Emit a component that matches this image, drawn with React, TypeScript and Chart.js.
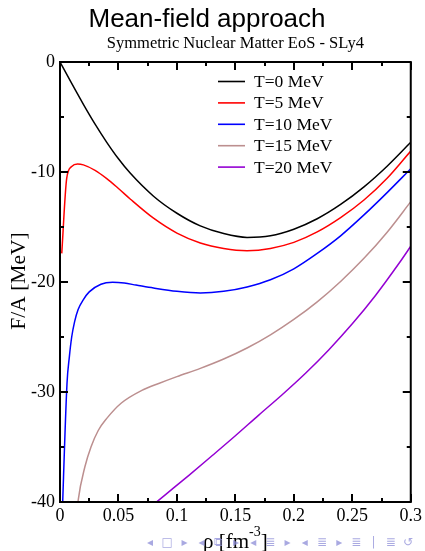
import { useEffect, useRef } from "react";
import { Chart, registerables } from "chart.js";

Chart.register(...registerables);

// ---- data ----
const rhoT0 = [0, 0.01, 0.02, 0.03, 0.04, 0.05, 0.06, 0.08, 0.1, 0.12, 0.14, 0.16, 0.18, 0.2, 0.22, 0.24, 0.26, 0.28, 0.3];
const faT0 = [0, -1.95, -3.85, -5.65, -7.3, -8.8, -10.1, -12.2, -13.75, -14.9, -15.6, -15.95, -15.8, -15.2, -14.25, -12.95, -11.35, -9.45, -7.3];

const rhoT5 = [0.0015, 0.0057, 0.01, 0.015, 0.02, 0.03, 0.04, 0.05, 0.06, 0.08, 0.1, 0.12, 0.14, 0.16, 0.18, 0.2, 0.22, 0.24, 0.26, 0.28, 0.3];
const faT5 = [-17.4, -10.6, -9.5, -9.27, -9.35, -9.85, -10.6, -11.5, -12.45, -14.2, -15.55, -16.45, -16.95, -17.15, -16.95, -16.4, -15.45, -14.15, -12.55, -10.55, -8.1];

const rhoT10 = [0.0015, 0.006, 0.008, 0.01, 0.0125, 0.0155, 0.02, 0.025, 0.035, 0.045, 0.055, 0.065, 0.08, 0.1, 0.12, 0.14, 0.16, 0.18, 0.2, 0.22, 0.24, 0.26, 0.28, 0.3];
const faT10 = [-42.5, -29.2, -26.8, -25.0, -23.6, -22.5, -21.6, -20.9, -20.2, -20.03, -20.1, -20.28, -20.55, -20.85, -21.0, -20.85, -20.45, -19.8, -18.8, -17.4, -15.8, -13.9, -11.85, -9.7];

const rhoT15 = [0.0145, 0.0156, 0.0213, 0.0265, 0.0327, 0.04, 0.0525, 0.07, 0.085, 0.1, 0.12, 0.14, 0.16, 0.18, 0.2, 0.22, 0.24, 0.26, 0.28, 0.3];
const faT15 = [-41.0, -39.8, -36.8, -35.0, -33.5, -32.4, -31.0, -29.85, -29.2, -28.6, -27.85, -27.0, -26.0, -24.8, -23.4, -21.8, -19.95, -17.85, -15.45, -12.7];

const rhoT20 = [0.078, 0.09, 0.11, 0.13, 0.15, 0.17, 0.19, 0.21, 0.23, 0.25, 0.27, 0.29, 0.3];
const faT20 = [-40.4, -39.35, -37.6, -35.8, -33.98, -32.1, -30.25, -28.3, -26.15, -23.8, -21.2, -18.3, -16.75];

const seriesLabels = ["T=0 MeV", "T=5 MeV", "T=10 MeV", "T=15 MeV", "T=20 MeV"];
const seriesColors = ["#000000", "#ff0000", "#0000ff", "#bc8f8f", "#9400d3"];
const seriesRho = [rhoT0, rhoT5, rhoT10, rhoT15, rhoT20];
const seriesFA = [faT0, faT5, faT10, faT15, faT20];

const xTickValues = [0, 0.05, 0.1, 0.15, 0.2, 0.25, 0.3];
const xTickLabels = ["0", "0.05", "0.1", "0.15", "0.2", "0.25", "0.3"];
const xMinorTicks = [0.025, 0.075, 0.125, 0.175, 0.225, 0.275];
const yTickValues = [0, -10, -20, -30, -40];
const yTickLabels = ["0", "-10", "-20", "-30", "-40"];
const yMinorTicks = [-5, -15, -25, -35];

const titleText = "Mean-field approach";
const subtitleText = "Symmetric Nuclear Matter EoS - SLy4";
const yAxisTitle = "F/A [MeV]";
const xAxisMain = "\u03C1 [fm";
const xAxisSup = "-3";
const xAxisEnd = "]";
const navGlyphs = ["\u25C2", "\u25A1", "\u25B8", "\u25C2", "\u29C9", "\u25B8", "\u25C2", "\u2263", "\u25B8", "\u25C2", "\u2263", "\u25B8", "\u2263", "|", "\u2263", "\u21BA"];

const SERIF = "'Liberation Serif', 'Times New Roman', serif";
const SANS = "'Liberation Sans', Arial, sans-serif";

const decorPlugin = {
  id: "decor",
  afterDraw(chart: any) {
    const { ctx, chartArea: a, scales } = chart;
    const xs = scales.x;
    const ys = scales.y;
    ctx.save();
    // frame
    ctx.strokeStyle = "#000";
    ctx.lineWidth = 2;
    ctx.strokeRect(a.left, a.top, a.right - a.left, a.bottom - a.top);
    // ticks (inward)
    ctx.beginPath();
    const xt = (v: number, len: number) => {
      const p = Math.round(xs.getPixelForValue(v));
      ctx.moveTo(p, a.bottom);
      ctx.lineTo(p, a.bottom - len);
      ctx.moveTo(p, a.top);
      ctx.lineTo(p, a.top + len);
    };
    const yt = (v: number, len: number) => {
      const p = Math.round(ys.getPixelForValue(v));
      ctx.moveTo(a.left, p);
      ctx.lineTo(a.left + len, p);
      ctx.moveTo(a.right, p);
      ctx.lineTo(a.right - len, p);
    };
    xTickValues.forEach((v) => xt(v, 8));
    xMinorTicks.forEach((v) => xt(v, 4));
    yTickValues.forEach((v) => yt(v, 8));
    yMinorTicks.forEach((v) => yt(v, 4));
    ctx.stroke();

    // legend
    ctx.font = "17.5px " + SERIF;
    ctx.textBaseline = "middle";
    ctx.textAlign = "left";
    seriesLabels.forEach((lab, i) => {
      const yy = 81.5 + i * 21.4;
      ctx.strokeStyle = seriesColors[i];
      ctx.lineWidth = 1.6;
      ctx.beginPath();
      ctx.moveTo(218, yy);
      ctx.lineTo(245, yy);
      ctx.stroke();
      ctx.fillStyle = "#000";
      ctx.fillText(lab, 254, yy + 1);
    });

    // titles
    ctx.fillStyle = "#000";
    ctx.textBaseline = "alphabetic";
    ctx.textAlign = "center";
    ctx.font = "26px " + SANS;
    ctx.fillText(titleText, 207, 27);
    ctx.font = "16.5px " + SERIF;
    ctx.fillText(subtitleText, (a.left + a.right) / 2, 48);

    // y axis title
    ctx.save();
    ctx.translate(24.5, 281);
    ctx.rotate(-Math.PI / 2);
    ctx.font = "21.5px " + SERIF;
    ctx.textAlign = "center";
    ctx.fillText(yAxisTitle, 0, 0);
    ctx.restore();

    // x axis title with superscript
    ctx.textAlign = "left";
    const mainFont = "21px " + SERIF;
    const supFont = "14px " + SERIF;
    ctx.font = mainFont;
    const w1 = ctx.measureText(xAxisMain).width;
    const w3 = ctx.measureText(xAxisEnd).width;
    ctx.font = supFont;
    const w2 = ctx.measureText(xAxisSup).width;
    const total = w1 + w2 + w3;
    const x0 = (a.left + a.right) / 2 - total / 2;
    ctx.font = mainFont;
    ctx.fillText(xAxisMain, x0, 548);
    ctx.font = supFont;
    ctx.fillText(xAxisSup, x0 + w1, 536);
    ctx.font = mainFont;
    ctx.fillText(xAxisEnd, x0 + w1 + w2, 548);

    // beamer navigation symbols
    ctx.fillStyle = "rgba(140,140,215,0.75)";
    ctx.font = "12px 'DejaVu Sans', sans-serif";
    ctx.textAlign = "center";
    ctx.textBaseline = "middle";
    navGlyphs.forEach((g, i) => {
      ctx.fillText(g, 150 + i * 17.2, 543);
    });
    ctx.restore();
  },
};

export default function App() {
  const ref = useRef<HTMLCanvasElement>(null);
  useEffect(() => {
    if (!ref.current) return;
    const datasets = seriesLabels.map((lab, i) => ({
      label: lab,
      data: seriesRho[i].map((r, j) => ({ x: r, y: seriesFA[i][j] })),
      borderColor: seriesColors[i],
      backgroundColor: seriesColors[i],
      borderWidth: 1.5,
      pointRadius: 0,
      fill: false,
      cubicInterpolationMode: "monotone" as const,
    }));
    const chart = new Chart(ref.current, {
      type: "line",
      data: { datasets },
      options: {
        animation: false,
        responsive: false,
        devicePixelRatio: 1,
        layout: { padding: { top: 62, right: 13, left: 0, bottom: 0 } },
        plugins: {
          legend: { display: false },
          title: { display: false },
          tooltip: { enabled: false },
        },
        scales: {
          x: {
            type: "linear",
            min: 0,
            max: 0.3,
            grid: { display: false, drawTicks: false },
            border: { display: false },
            afterFit: (s: any) => {
              s.height = 49;
            },
            afterBuildTicks: (s: any) => {
              s.ticks = xTickValues.map((v) => ({ value: v }));
            },
            ticks: {
              autoSkip: false,
              maxRotation: 0,
              minRotation: 0,
              padding: 3,
              color: "#000",
              font: { family: SERIF, size: 18 },
              callback: (v: any) => {
                const i = xTickValues.findIndex((t) => Math.abs(t - Number(v)) < 1e-9);
                return i >= 0 ? xTickLabels[i] : "";
              },
            },
          },
          y: {
            type: "linear",
            min: -40,
            max: 0,
            grid: { display: false, drawTicks: false },
            border: { display: false },
            afterFit: (s: any) => {
              s.width = 60;
            },
            afterBuildTicks: (s: any) => {
              s.ticks = yTickValues.map((v) => ({ value: v }));
            },
            ticks: {
              autoSkip: false,
              padding: 5,
              color: "#000",
              font: { family: SERIF, size: 18 },
              callback: (v: any) => {
                const i = yTickValues.findIndex((t) => Math.abs(t - Number(v)) < 1e-9);
                return i >= 0 ? yTickLabels[i] : "";
              },
            },
          },
        },
      },
      plugins: [decorPlugin],
    });
    return () => chart.destroy();
  }, []);
  return (
    <div style={{ position: "fixed", left: 0, top: 0, width: 425, height: 551, background: "#fff" }}>
      <canvas ref={ref} width={425} height={551} style={{ width: 425, height: 551, display: "block" }} />
    </div>
  );
}
